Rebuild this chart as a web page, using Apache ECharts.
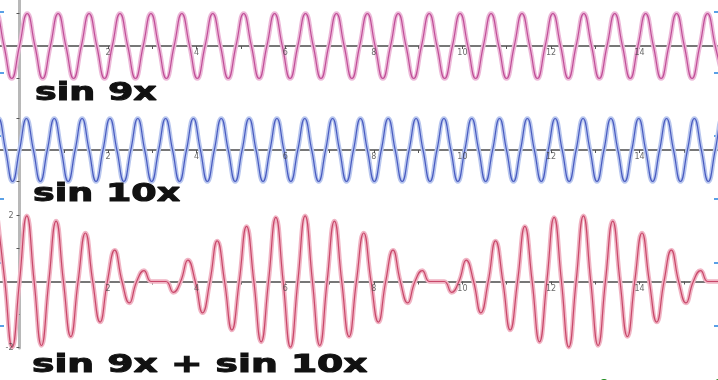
<!DOCTYPE html>
<html>
<head>
<meta charset="utf-8">
<script src="https://cdn.jsdelivr.net/npm/echarts@6/dist/echarts.min.js"></script>
<style>
html,body{margin:0;padding:0;background:#fff;}
#chart{width:718px;height:380px;}
</style>
</head>
<body>
<div id="chart"></div>
<script>
// ---- data ----
const xTickValues = [0,1,2,3,4,5,6,7,8,9,10,11,12,13,14,15];
const xTickLabels = [2,4,6,8,10,12,14];
const panelTitles = ['sin 9x', 'sin 10x', 'sin 9x + sin 10x'];
const sumYLabels = [-2, 2];

// sin 9x: samples every quarter period starting at x = -0.6981
const sin9Start = -0.6981, sin9Step = 0.17453;
const sin9Values = [
  0,1,0,-1, 0,1,0,-1, 0,1,0,-1, 0,1,0,-1, 0,1,0,-1, 0,1,0,-1,
  0,1,0,-1, 0,1,0,-1, 0,1,0,-1, 0,1,0,-1, 0,1,0,-1, 0,1,0,-1,
  0,1,0,-1, 0,1,0,-1, 0,1,0,-1, 0,1,0,-1, 0,1,0,-1, 0,1,0,-1,
  0,1,0,-1, 0,1,0,-1, 0,1,0,-1, 0,1,0,-1, 0,1,0,-1, 0,1,0,-1
];

// sin 10x: samples every quarter period starting at x = -0.6283
const sin10Start = -0.6283, sin10Step = 0.15708;
const sin10Values = [
  0,1,0,-1, 0,1,0,-1, 0,1,0,-1, 0,1,0,-1, 0,1,0,-1, 0,1,0,-1,
  0,1,0,-1, 0,1,0,-1, 0,1,0,-1, 0,1,0,-1, 0,1,0,-1, 0,1,0,-1,
  0,1,0,-1, 0,1,0,-1, 0,1,0,-1, 0,1,0,-1, 0,1,0,-1, 0,1,0,-1,
  0,1,0,-1, 0,1,0,-1, 0,1,0,-1, 0,1,0,-1, 0,1,0,-1, 0,1,0,-1,
  0,1,0,-1, 0,1,0,-1, 0,1,0,-1
];

// sin 9x + sin 10x: samples every quarter carrier period starting at x = -0.4960
const sumStart = -0.4960, sumStep = 0.16535;
const sumValues = [
  1.94,0,-1.99,0,1.99,0,-1.94,0,1.83,0,-1.67,0,1.47,0,-1.23,0,0.95,0,-0.65,0,0.33,0,
  0,0,-0.33,0,0.65,0,-0.95,0,1.23,0,-1.47,0,1.67,0,-1.83,0,1.94,0,-1.99,0,1.99,0,
  -1.94,0,1.83,0,-1.67,0,1.47,0,-1.23,0,0.95,0,-0.65,0,0.33,0,0,0,-0.33,0,0.65,0,
  -0.95,0,1.23,0,-1.47,0,1.67,0,-1.83,0,1.94,0,-1.99,0,1.99,0,-1.94,0,1.83,0,
  -1.67,0,1.47,0,-1.23,0,0.95,0,-0.65,0,0.33,0,0,0,-0.33
];

// ---- chart ----
const X_MIN = -0.44, X_MAX = 15.77;
function pairs(start, step, vals){ return vals.map((v,i)=>[start + i*step, v]); }

const grids = [
  {left:0, right:0, top:0, height:105, outerBoundsMode:'none', containLabel:false},
  {left:0, right:0, top:105, height:100, outerBoundsMode:'none', containLabel:false},
  {left:0, right:0, top:205, height:143, outerBoundsMode:'none', containLabel:false}
];
const yRanges = [
  {min:-1.815, max:1.415},
  {min:-1.746, max:1.4286},
  {min:-2.015, max:2.318}
];
const yTicks = [[-1,1],[-1,1],[-2,-1,1,2]];

const xAxes = grids.map((g,i)=>({
  type:'value', gridIndex:i, min:X_MIN, max:X_MAX,
  splitLine:{show:false},
  axisLine:{onZero:true, lineStyle:{color:'#4a4a4a', width:1.5}},
  axisTick:{show:true, customValues:xTickValues, length:3, lineStyle:{color:'#555', width:1}},
  axisLabel:{show:false}
}));
const yAxes = grids.map((g,i)=>({
  type:'value', gridIndex:i, min:yRanges[i].min, max:yRanges[i].max,
  splitLine:{show:false},
  axisLine:{onZero:true, lineStyle:{color:'#b8b8b8', width:3}},
  axisTick:{show:true, customValues:yTicks[i], length:3, lineStyle:{color:'#555', width:1}},
  axisLabel:{show:false}
}));

const labelStyle = {fontSize:8, color:'#444', fontFamily:'DejaVu Sans'};
const curves = [
  {data:pairs(sin9Start, sin9Step, sin9Values), core:'#c04f98', halo:'#ecb8d8'},
  {data:pairs(sin10Start, sin10Step, sin10Values), core:'#4a5cc0', halo:'#b8c6ee'},
  {data:pairs(sumStart, sumStep, sumValues), core:'#c8486a', halo:'#f0b4c4'}
];
const series = [];
curves.forEach((c,i)=>{
  series.push({type:'line', xAxisIndex:i, yAxisIndex:i, data:c.data, smooth:0.5, showSymbol:false, silent:true,
    lineStyle:{color:c.halo, width:4.5}, z:2});
  series.push({type:'line', xAxisIndex:i, yAxisIndex:i, data:c.data, smooth:0.5, showSymbol:false, silent:true,
    lineStyle:{color:c.core, width:1.2}, z:3});
  // x tick labels placed on the zero line through the library's scales
  series.push({type:'scatter', xAxisIndex:i, yAxisIndex:i, data:xTickLabels.map(v=>[v,0]),
    symbolSize:0, silent:true, z:6, labelLayout:{hideOverlap:false},
    label:Object.assign({show:true, position:'bottom', distance:3, formatter:p=>String(p.value[0])}, labelStyle)});
});
// y tick labels of the sum panel
series.push({type:'scatter', xAxisIndex:2, yAxisIndex:2, data:sumYLabels.map(v=>[0,v]),
  symbolSize:0, silent:true, z:6, labelLayout:{hideOverlap:false},
  label:Object.assign({show:true, position:'left', distance:6, formatter:p=>String(p.value[1])}, labelStyle)});

const titlePos = [{x:35, y:82, s:1.52}, {x:33, y:183, s:1.52}, {x:32, y:354, s:1.57}];
const graphics = panelTitles.map((t,i)=>({
  type:'text', x:titlePos[i].x, y:titlePos[i].y, scaleX:titlePos[i].s, z:10,
  style:{text:t, font:'bold 24px "DejaVu Sans"', fill:'#111', stroke:'#111', lineWidth:1, textVerticalAlign:'top'}
}));
[11,72,135,198,262,325].forEach(y=>{
  graphics.push({type:'rect', shape:{x:0, y:y, width:4, height:2}, style:{fill:'#5aa0e6'}});
  graphics.push({type:'rect', shape:{x:714, y:y, width:4, height:2}, style:{fill:'#5aa0e6'}});
});
graphics.push({type:'circle', shape:{cx:604, cy:383, r:4}, style:{fill:'#1a8a1a'}});
graphics.push({type:'circle', shape:{cx:719, cy:383, r:4}, style:{fill:'#1a8a1a'}});

const chart = echarts.init(document.getElementById('chart'));
chart.setOption({
  animation:false,
  backgroundColor:'#fff',
  grid:grids, xAxis:xAxes, yAxis:yAxes, series:series, graphic:graphics
});
</script>
</body>
</html>
